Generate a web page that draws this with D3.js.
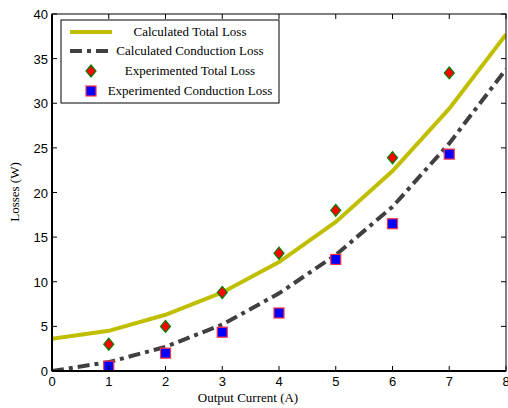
<!DOCTYPE html>
<html><head><meta charset="utf-8">
<script src="https://cdn.jsdelivr.net/npm/d3@7"></script>
<style>body{margin:0;background:#fff;}svg{display:block;}</style>
</head><body>
<svg id="c" width="508" height="408"></svg>
<script>
const calcX = [0,1,2,3,4,5,6,7,8];
const calcTotal = [3.6,4.5,6.3,8.8,12.2,16.7,22.4,29.4,37.7];
const calcCond = [0,1.0,2.7,5.2,8.7,13.0,18.4,25.5,33.8];
const expX = [1,2,3,4,5,6,7];
const expTotal = [3.0,5.0,8.8,13.2,18.0,23.9,33.4];
const expCond = [0.55,2.0,4.35,6.5,12.5,16.5,24.3];
const xTicks = [0,1,2,3,4,5,6,7,8];
const yTicks = [0,5,10,15,20,25,30,35,40];

const svg = d3.select("#c");
const L=52,R=506,T=14,B=371;
const x = d3.scaleLinear().domain([0,8]).range([L,R]);
const y = d3.scaleLinear().domain([0,40]).range([B,T]);
const yellow="#bfbf00", dark="#404040";

const plot = svg.append("g");
svg.append("clipPath").attr("id","cp").append("rect").attr("x",L).attr("y",T).attr("width",R-L).attr("height",B-T);

const line = d3.line().x((d,i)=>x(calcX[i])).y(d=>y(d));
plot.append("path").attr("d",line(calcTotal)).attr("fill","none").attr("stroke",yellow).attr("stroke-width",4).attr("clip-path","url(#cp)");
plot.append("path").attr("d",line(calcCond)).attr("fill","none").attr("stroke",dark).attr("stroke-width",4).attr("stroke-dasharray","12,5,4,5").attr("clip-path","url(#cp)");

function diamond(g,cx,cy){
  g.append("path").attr("d",`M${cx},${cy-6}L${cx+5},${cy}L${cx},${cy+6}L${cx-5},${cy}Z`).attr("fill","#ff0000").attr("stroke","#008000").attr("stroke-width",1.2);
}
function square(g,cx,cy){
  g.append("rect").attr("x",cx-5).attr("y",cy-5).attr("width",10).attr("height",10).attr("fill","#0000ff").attr("stroke","#ff3344").attr("stroke-width",1.2);
}
expX.forEach((v,i)=>diamond(plot,x(v),y(expTotal[i])));
expX.forEach((v,i)=>square(plot,x(v),y(expCond[i])));

// axes box
const ax = svg.append("g");
ax.append("rect").attr("x",L).attr("y",T).attr("width",R-L).attr("height",B-T).attr("fill","none").attr("stroke","#000").attr("stroke-width",1);
ax.append("line").attr("x1",L).attr("x2",L).attr("y1",T).attr("y2",B).attr("stroke","#000").attr("stroke-width",2);
ax.append("line").attr("x1",L).attr("x2",R).attr("y1",B).attr("y2",B).attr("stroke","#000").attr("stroke-width",2);
xTicks.forEach(t=>{
  ax.append("line").attr("x1",x(t)).attr("x2",x(t)).attr("y1",B).attr("y2",B-5).attr("stroke","#000");
  ax.append("line").attr("x1",x(t)).attr("x2",x(t)).attr("y1",T).attr("y2",T+5).attr("stroke","#000");
  ax.append("text").attr("x",x(t)).attr("y",B+15).attr("text-anchor","middle").attr("font-family","Liberation Sans, Arial, sans-serif").attr("font-size",13).text(t);
});
yTicks.forEach(t=>{
  ax.append("line").attr("x1",L).attr("x2",L+5).attr("y1",y(t)).attr("y2",y(t)).attr("stroke","#000");
  ax.append("line").attr("x1",R).attr("x2",R-5).attr("y1",y(t)).attr("y2",y(t)).attr("stroke","#000");
  ax.append("text").attr("x",L-4).attr("y",y(t)+5).attr("text-anchor","end").attr("font-family","Liberation Sans, Arial, sans-serif").attr("font-size",13).text(t);
});
svg.append("text").attr("x",248).attr("y",402).attr("text-anchor","middle").attr("font-family","Liberation Serif, Times New Roman, serif").attr("font-size",13).text("Output Current (A)");
svg.append("text").attr("transform","translate(19,192) rotate(-90)").attr("text-anchor","middle").attr("font-family","Liberation Serif, Times New Roman, serif").attr("font-size",13).text("Losses (W)");

// legend
const lg = svg.append("g");
lg.append("rect").attr("x",61).attr("y",20).attr("width",218).attr("height",83).attr("fill","#fff").attr("stroke","#000").attr("stroke-width",1);
const names=["Calculated Total Loss","Calculated Conduction Loss","Experimented Total Loss","Experimented Conduction Loss"];
const ly=[32,51,71,91];
lg.append("line").attr("x1",70).attr("x2",112).attr("y1",ly[0]).attr("y2",ly[0]).attr("stroke",yellow).attr("stroke-width",4);
lg.append("line").attr("x1",70).attr("x2",112).attr("y1",ly[1]).attr("y2",ly[1]).attr("stroke",dark).attr("stroke-width",4).attr("stroke-dasharray","12,5,4,5");
diamond(lg,91,ly[2]);
square(lg,91,ly[3]);
names.forEach((n,i)=>lg.append("text").attr("x",190).attr("y",ly[i]+4).attr("text-anchor","middle").attr("font-family","Liberation Serif, Times New Roman, serif").attr("font-size",13).text(n));
</script>
</body></html>
